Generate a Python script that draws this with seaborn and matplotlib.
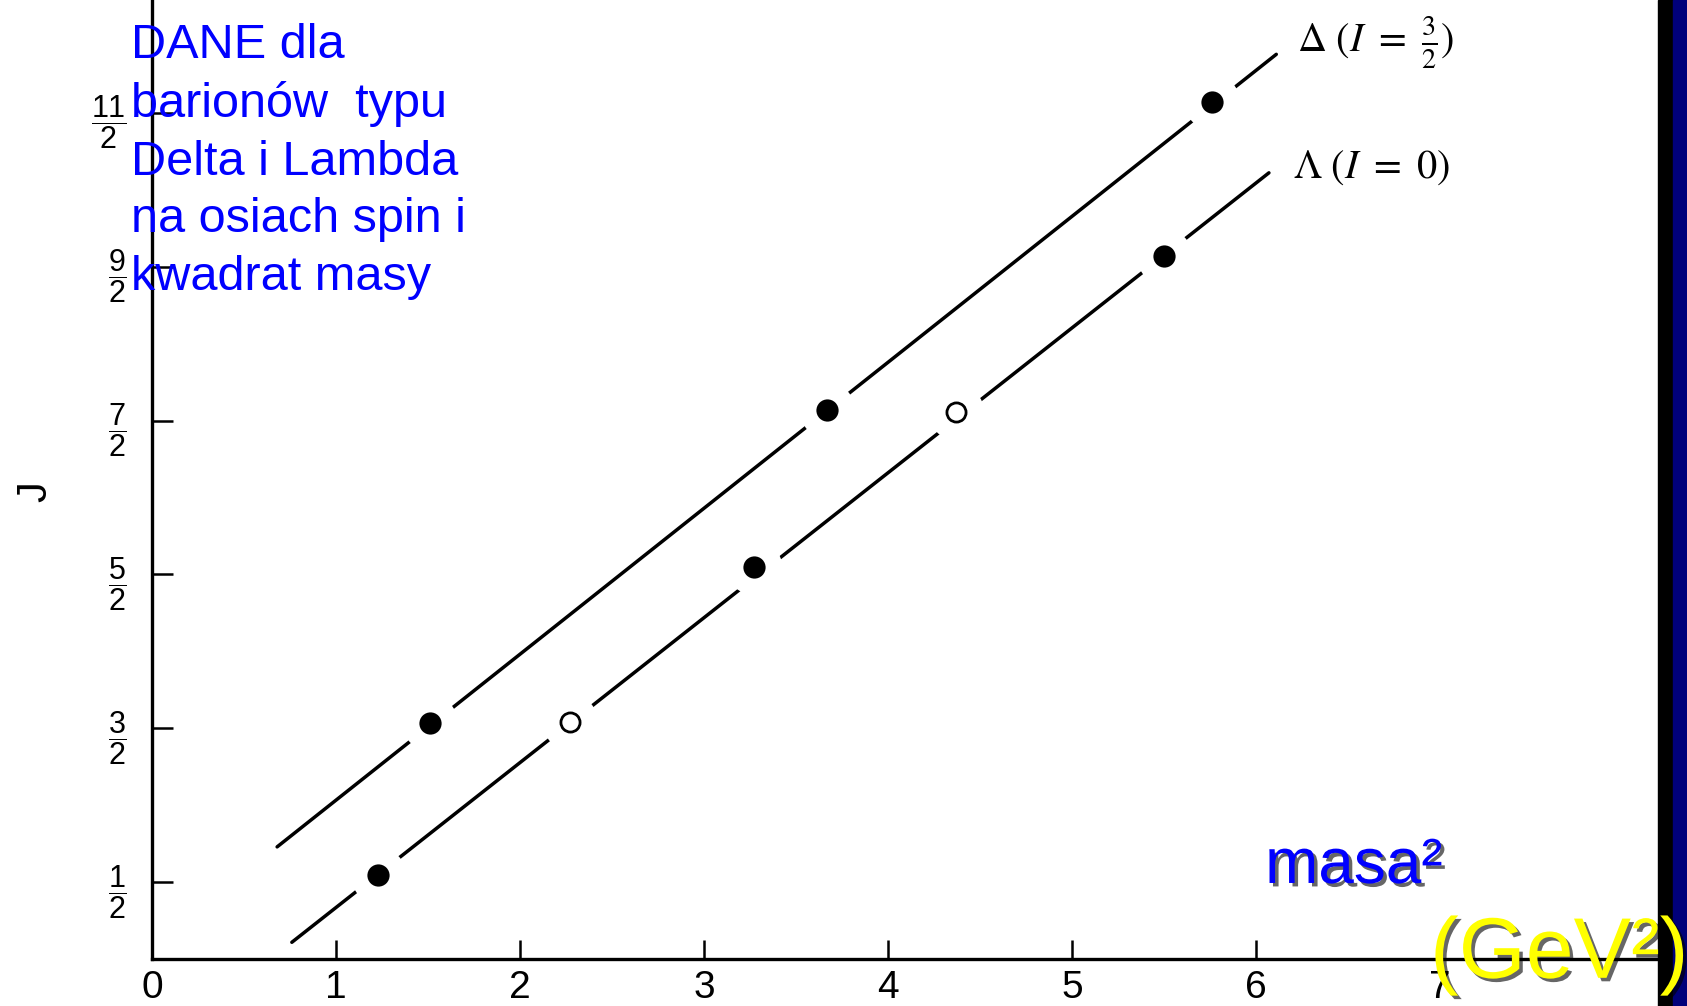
import numpy as np
import pandas as pd
import matplotlib.pyplot as plt
import matplotlib.patheffects as pe
from matplotlib.patches import Rectangle
import seaborn as sns

# dane: masa^2 (GeV^2) i spin J
delta_m2 = [1.51, 3.67, 5.76]
delta_J = [1.535, 3.57, 5.57]
delta_open = [False, False, False]

lambda_m2 = [1.23, 2.27, 3.27, 4.37, 5.50]
lambda_J = [0.55, 1.54, 2.55, 3.555, 4.57]
lambda_open = [False, True, False, True, False]

# konce prostych (trajektorie Regge)
delta_line_m2 = [0.68, 6.11]
delta_line_J = [0.73, 5.88]
lambda_line_m2 = [0.76, 6.07]
lambda_line_J = [0.11, 5.11]

x_ticks = [0, 1, 2, 3, 4, 5, 6, 7]
y_ticks = [0.5, 1.5, 2.5, 3.5, 4.5, 5.5]
y_tick_labels = [r"$\dfrac{1}{2}$", r"$\dfrac{3}{2}$", r"$\dfrac{5}{2}$",
                 r"$\dfrac{7}{2}$", r"$\dfrac{9}{2}$", r"$\dfrac{11}{2}$"]

points = pd.DataFrame({
    "m2": delta_m2 + lambda_m2,
    "J": delta_J + lambda_J,
    "open": delta_open + lambda_open,
})

sns.set_style("white")
plt.rcParams["font.family"] = ["Liberation Sans", "DejaVu Sans"]
plt.rcParams["mathtext.fontset"] = "custom"
plt.rcParams["mathtext.rm"] = "Liberation Sans"
plt.rcParams["mathtext.it"] = "Liberation Sans:italic"
plt.rcParams["mathtext.bf"] = "Liberation Sans:bold"

fig = plt.figure(figsize=(16.87, 10.06), dpi=100)
ax = fig.add_axes([0, 0, 1, 1])
ax.set_xlim(-0.826, 8.342)
ax.set_ylim(-0.304, 6.233)

sns.lineplot(x=delta_line_m2, y=delta_line_J, color="black", lw=2.5, ax=ax, zorder=2)
sns.lineplot(x=lambda_line_m2, y=lambda_line_J, color="black", lw=2.5, ax=ax, zorder=2)

# przerwy w liniach wokol punktow
sns.scatterplot(data=points, x="m2", y="J", color="white", s=1600,
                linewidth=0, ax=ax, zorder=3)
sns.scatterplot(data=points[~points["open"]], x="m2", y="J", color="black",
                s=256, linewidth=0, ax=ax, zorder=4)
sns.scatterplot(data=points[points["open"]], x="m2", y="J", color="white",
                edgecolor="black", s=190, linewidth=2.0, ax=ax, zorder=4)

for s in ["top", "right"]:
    ax.spines[s].set_visible(False)
ax.spines["left"].set_position(("data", 0))
ax.spines["bottom"].set_position(("data", 0))
ax.spines["left"].set_bounds(0, 6.4)
ax.spines["bottom"].set_bounds(0, 8.4)
for s in ["left", "bottom"]:
    ax.spines[s].set_linewidth(2.4)
    ax.spines[s].set_color("black")

ax.set_xticks(x_ticks)
ax.set_xticklabels([str(t) for t in x_ticks])
ax.set_yticks(y_ticks)
ax.set_yticklabels(y_tick_labels)
ax.tick_params(axis="x", bottom=True, direction="in", length=14, width=1.8,
               pad=8, labelsize=28, colors="black")
ax.tick_params(axis="y", left=True, direction="in", length=15, width=1.8,
               pad=18, labelsize=22, colors="black")
ax.set_xlabel("")
ax.set_ylabel("")

ax.text(0.0207, 0.511, "J", transform=ax.transAxes, rotation=90,
        fontsize=30, ha="center", va="center", color="black")

ax.text(6.22, 5.895, r"$\Delta\ (I\ =\ \frac{3}{2})$", fontsize=29,
        math_fontfamily="stix", ha="left", va="baseline", color="black")
ax.text(6.20, 5.08, r"$\Lambda\ (I\ =\ 0)$", fontsize=29,
        math_fontfamily="stix", ha="left", va="baseline", color="black")

ax.text(0.0777, 0.977,
        "DANE dla\nbarionów  typu\nDelta i Lambda\nna osiach spin i\nkwadrat masy",
        transform=ax.transAxes, fontsize=35, color="#0000ff",
        ha="left", va="top", linespacing=1.36, zorder=6)

shadow = [pe.SimplePatchShadow(offset=(2.5, -2.5), shadow_rgbFace="black", alpha=0.6),
          pe.Normal()]
fig.text(0.7499, 0.1223, "masa²", fontsize=46, color="#0000ff",
         ha="left", va="baseline", path_effects=shadow, zorder=6)

# krawedz skanu i tlo slajdu
fig.patches.append(Rectangle((1658 / 1687, 0), 15 / 1687, 1,
                             transform=fig.transFigure, color="black", zorder=2))
fig.patches.append(Rectangle((1673 / 1687, 0), 14 / 1687, 1,
                             transform=fig.transFigure, color="#00007a", zorder=2))

fig.text(0.8477, 0.028, "(GeV²)", fontsize=62, color="#ffff00",
         ha="left", va="baseline", path_effects=shadow, zorder=6)

fig.savefig("out.png", dpi=100)
